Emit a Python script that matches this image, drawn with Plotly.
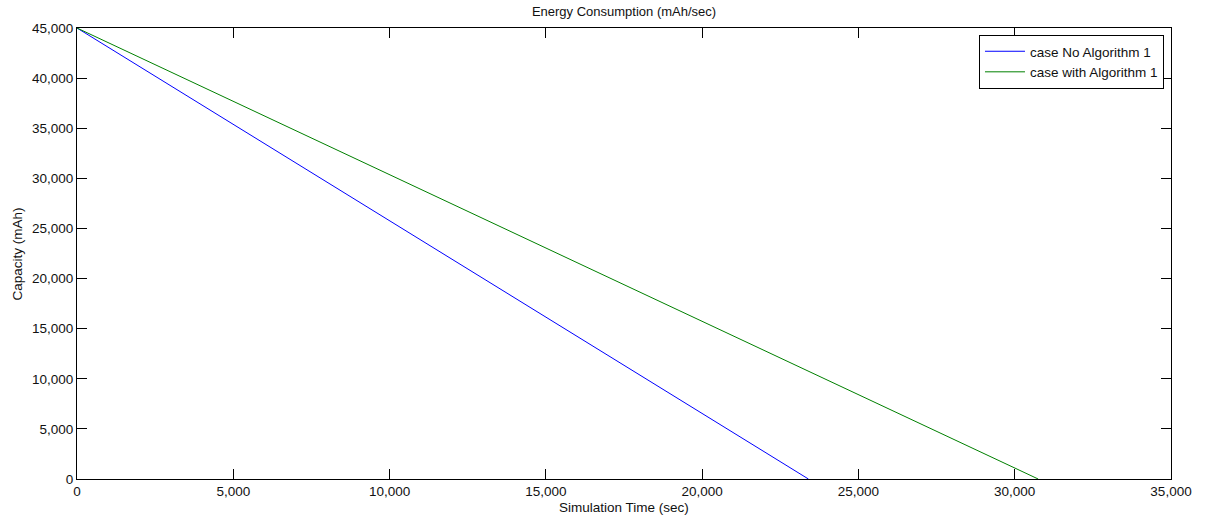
import plotly.graph_objects as go

# data
time_no_alg = [0, 23400]
cap_no_alg = [45000, 0]
time_with_alg = [0, 30750]
cap_with_alg = [45000, 0]

x_ticks = [0, 5000, 10000, 15000, 20000, 25000, 30000, 35000]
y_ticks = [0, 5000, 10000, 15000, 20000, 25000, 30000, 35000, 40000, 45000]

FONT = "Liberation Sans, Arial"
TXT = "#111"

fig = go.Figure()
fig.add_trace(go.Scatter(x=time_no_alg, y=cap_no_alg, mode="lines",
                         name="case No Algorithm 1",
                         line=dict(color="#0000ff", width=1)))
fig.add_trace(go.Scatter(x=time_with_alg, y=cap_with_alg, mode="lines",
                         name="case with Algorithm 1",
                         line=dict(color="#008000", width=1)))

axis_common = dict(showline=True, linecolor="black", linewidth=1, mirror="ticks",
                   ticks="inside", ticklen=10, tickcolor="black", tickwidth=1,
                   showgrid=False, zeroline=False, tickformat=",", automargin=False,
                   tickfont=dict(family=FONT, size=13.5, color=TXT))

fig.update_layout(
    width=1205, height=519,
    margin=dict(l=77, r=34, t=28, b=40),
    paper_bgcolor="white", plot_bgcolor="white",
    title=dict(text="Energy Consumption (mAh/sec)", x=0.5, xref="paper", y=0.986, yanchor="top",
               font=dict(family=FONT, size=13, color=TXT)),
    xaxis=dict(range=[0, 35000], tickvals=x_ticks, **axis_common),
    yaxis=dict(range=[0, 45000], tickvals=y_ticks, **axis_common),
    legend=dict(x=0.9936, y=0.9845, xanchor="right", yanchor="top",
                bordercolor="black", borderwidth=1, bgcolor="white",
                font=dict(family=FONT, size=13.5, color=TXT),
                tracegroupgap=0, itemwidth=40),
    showlegend=True,
    annotations=[
        dict(text="Simulation Time (sec)", xref="paper", yref="paper", x=0.5, y=-0.064,
             xanchor="center", yanchor="middle", showarrow=False,
             font=dict(family=FONT, size=13.5, color=TXT)),
        dict(text="Capacity (mAh)", xref="paper", yref="paper", x=-0.054, y=0.5,
             xanchor="center", yanchor="middle", textangle=-90, showarrow=False,
             font=dict(family=FONT, size=13.5, color=TXT)),
    ],
)

fig.write_html("out.html")
